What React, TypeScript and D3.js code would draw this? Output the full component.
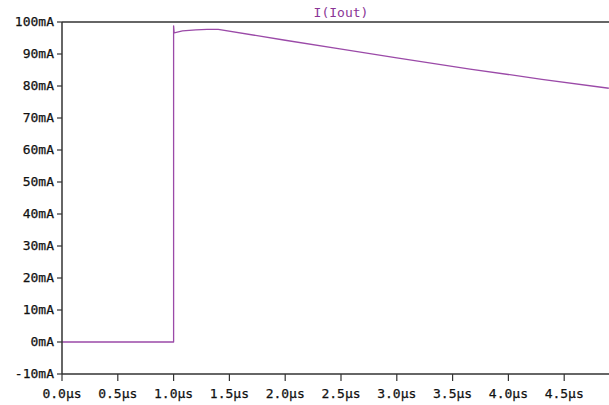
import React from "react";
import * as d3 from "d3";

const timeUs = [0, 1.0, 1.0, 1.005, 1.08, 1.2, 1.3, 1.4, 2.0, 2.49, 3.0, 3.656, 4.3, 4.9];
const currentMA = [0, 0, 98.8, 96.6, 97.2, 97.55, 97.7, 97.7, 94.3, 91.6, 88.8, 85.3, 82.1, 79.3];
const xTicks = [0, 0.5, 1.0, 1.5, 2.0, 2.5, 3.0, 3.5, 4.0, 4.5];
const yTicks = [-10, 0, 10, 20, 30, 40, 50, 60, 70, 80, 90, 100];
const title = "I(Iout)";

const W = 609;
const H = 405;
const left = 62;
const top = 22;
const bottom = 374;
const rightEdge = 620;
const FONT = "'DejaVu Sans Mono', monospace";
const PURPLE = "#9b4aa8";
const AXIS = "#333";

export default function App() {
  const x = d3.scaleLinear().domain([0, 5]).range([left, rightEdge]);
  const y = d3.scaleLinear().domain([-10, 100]).range([bottom, top]);
  const pts: [number, number][] = timeUs.map((t, i) => [t, currentMA[i]]);
  const line = d3
    .line<[number, number]>()
    .x((d) => x(d[0]))
    .y((d) => y(d[1]));

  return (
    <svg
      width={W}
      height={H}
      style={{ position: "absolute", left: 0, top: 0, background: "#fff" }}
    >
      <text
        x={(left + rightEdge) / 2}
        y={13}
        textAnchor="middle"
        dominantBaseline="middle"
        fontFamily={FONT}
        fontSize={13}
        fill="#8a3596"
      >
        {title}
      </text>
      <path d={line(pts) || ""} fill="none" stroke={PURPLE} strokeWidth={1.3} strokeLinejoin="round" />
      <line x1={left} x2={W} y1={top} y2={top} stroke={AXIS} strokeWidth={1.5} />
      <line x1={left} x2={W} y1={bottom} y2={bottom} stroke={AXIS} strokeWidth={1.5} />
      <line x1={left} x2={left} y1={top} y2={bottom} stroke={AXIS} strokeWidth={1.5} />
      {yTicks.map((v) => (
        <g key={"y" + v}>
          <line x1={left - 5} x2={left} y1={y(v)} y2={y(v)} stroke={AXIS} strokeWidth={1.2} />
          <text
            x={left - 8}
            y={y(v)}
            textAnchor="end"
            dominantBaseline="middle"
            fontFamily={FONT}
            fontSize={13}
            fill="#111"
            stroke="#111"
            strokeWidth={0.25}
          >
            {v + "mA"}
          </text>
        </g>
      ))}
      {xTicks.map((v) => (
        <g key={"x" + v}>
          <line x1={x(v)} x2={x(v)} y1={bottom} y2={bottom + 7} stroke={AXIS} strokeWidth={1.2} />
          <text
            x={x(v)}
            y={bottom + 20}
            textAnchor="middle"
            dominantBaseline="middle"
            fontFamily={FONT}
            fontSize={13}
            fill="#111"
            stroke="#111"
            strokeWidth={0.25}
          >
            {v.toFixed(1) + "µs"}
          </text>
        </g>
      ))}
    </svg>
  );
}
